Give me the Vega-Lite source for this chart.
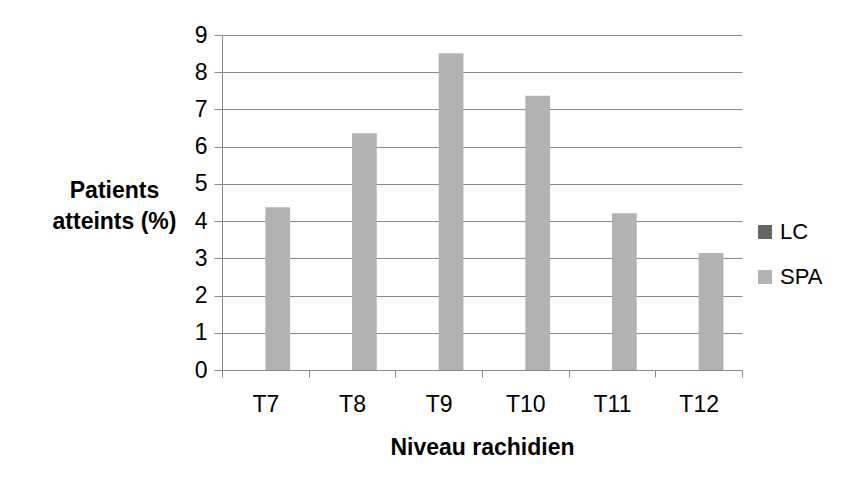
{
  "$schema": "https://vega.github.io/schema/vega-lite/v6.json",
  "width": 520,
  "height": 335,
  "autosize": {"type": "none"},
  "padding": {"left": 222, "top": 35, "right": 124, "bottom": 121},
  "background": "white",
  "data": {
    "values": [
      {"niveau": "T7", "serie": "LC", "pct": 0},
      {"niveau": "T7", "serie": "SPA", "pct": 4.37},
      {"niveau": "T8", "serie": "LC", "pct": 0},
      {"niveau": "T8", "serie": "SPA", "pct": 6.36},
      {"niveau": "T9", "serie": "LC", "pct": 0},
      {"niveau": "T9", "serie": "SPA", "pct": 8.51},
      {"niveau": "T10", "serie": "LC", "pct": 0},
      {"niveau": "T10", "serie": "SPA", "pct": 7.37},
      {"niveau": "T11", "serie": "LC", "pct": 0},
      {"niveau": "T11", "serie": "SPA", "pct": 4.21},
      {"niveau": "T12", "serie": "LC", "pct": 0},
      {"niveau": "T12", "serie": "SPA", "pct": 3.14}
    ]
  },
  "mark": {"type": "bar"},
  "encoding": {
    "x": {
      "field": "niveau",
      "type": "nominal",
      "sort": ["T7", "T8", "T9", "T10", "T11", "T12"],
      "scale": {"paddingInner": 0, "paddingOuter": 0},
      "axis": {
        "title": "Niveau rachidien",
        "titleFontSize": 23,
        "titleFontWeight": "bold",
        "titleColor": "#000000",
        "titlePadding": 20,
        "labelAngle": 0,
        "labelFontSize": 23,
        "labelColor": "#000000",
        "labelPadding": 16,
        "tickBand": "extent",
        "tickSize": 7,
        "tickColor": "#888888",
        "domainColor": "#888888",
        "grid": false
      }
    },
    "xOffset": {
      "field": "serie",
      "type": "nominal",
      "sort": ["LC", "SPA"],
      "scale": {"paddingInner": 0, "paddingOuter": 0.75}
    },
    "y": {
      "field": "pct",
      "type": "quantitative",
      "scale": {"domain": [0, 9], "nice": false},
      "axis": {
        "title": ["Patients", "atteints (%)"],
        "titleAngle": 0,
        "titleAlign": "center",
        "titleBaseline": "middle",
        "titleX": -108,
        "titleY": 155,
        "titleLineHeight": 31,
        "titleFontSize": 23,
        "titleFontWeight": "bold",
        "titleColor": "#000000",
        "values": [0, 1, 2, 3, 4, 5, 6, 7, 8, 9],
        "format": "d",
        "labelFontSize": 23,
        "labelColor": "#000000",
        "labelPadding": 7,
        "tickSize": 8,
        "tickColor": "#888888",
        "domainColor": "#888888",
        "gridColor": "#888888",
        "grid": true
      }
    },
    "color": {
      "field": "serie",
      "type": "nominal",
      "scale": {"domain": ["LC", "SPA"], "range": ["#666666", "#b2b2b2"]},
      "legend": {
        "orient": "none",
        "legendX": 532,
        "legendY": 186,
        "title": null,
        "symbolType": "square",
        "symbolSize": 196,
        "symbolStrokeWidth": 0,
        "labelFontSize": 22,
        "labelColor": "#000000",
        "labelOffset": 4,
        "rowPadding": 23
      }
    }
  },
  "config": {"view": {"stroke": null}, "font": "Liberation Sans"}
}
